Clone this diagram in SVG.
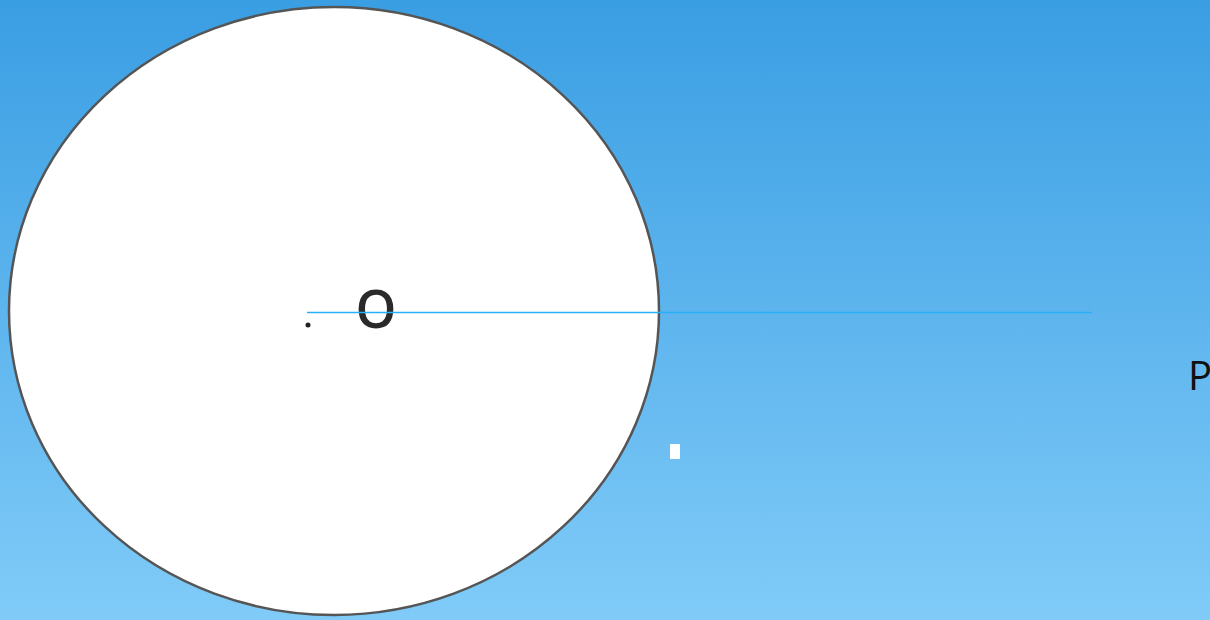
<svg xmlns="http://www.w3.org/2000/svg" width="1210" height="620" viewBox="0 0 1210 620">
<defs>
<linearGradient id="bg" x1="0" y1="0" x2="0" y2="1">
<stop offset="0" stop-color="#3a9ee3"/>
<stop offset="1" stop-color="#80cbf8"/>
</linearGradient>
<style>
.lbl{font-family:"Open Sans","Liberation Sans",sans-serif;}
</style>
</defs>
<rect width="1210" height="620" fill="url(#bg)"/>
<g id="circle">
<ellipse cx="334" cy="311" rx="325" ry="304" fill="#ffffff" stroke="#555555" stroke-width="2.5"/>
<circle cx="308" cy="325" r="2.5" fill="#222222"/>
<text class="lbl" x="376" y="328" font-size="52" font-weight="600" fill="#2a2a2a" text-anchor="middle">O</text>
</g>
<g id="connectors">
<line x1="307" y1="312.5" x2="1092" y2="312.5" stroke="#29b0f4" stroke-width="1.5"/>
</g>
<g id="mark">
<rect x="670" y="444" width="10" height="15" fill="#ffffff"/>
</g>
<g id="P">
<text class="lbl" x="1188" y="390" font-size="40" fill="#111111">P</text>
</g>
</svg>
